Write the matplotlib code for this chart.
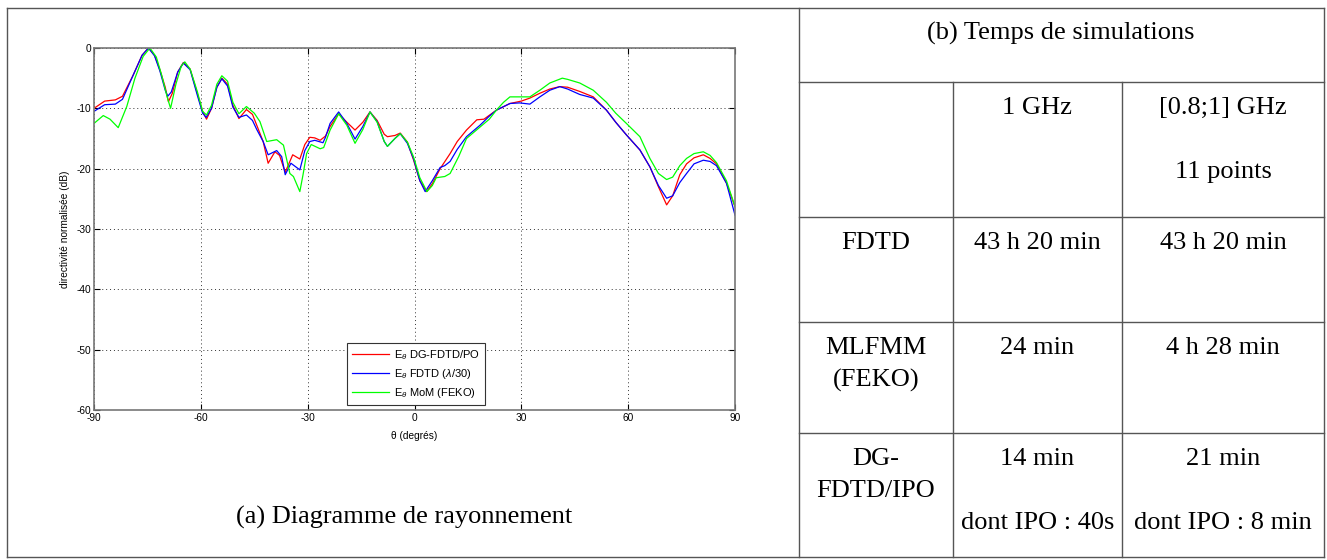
import matplotlib
matplotlib.use('Agg')
import matplotlib.pyplot as plt
from matplotlib.lines import Line2D

plt.rcParams['font.family'] = ['Liberation Sans', 'DejaVu Sans']
plt.rcParams['mathtext.fontset'] = 'custom'
plt.rcParams['mathtext.rm'] = 'Liberation Sans'
plt.rcParams['mathtext.it'] = 'Liberation Sans:italic'
plt.rcParams['axes.unicode_minus'] = False

# --- data (theta in degrees, dB) ---
theta_red = [-90, -87, -84, -82, -79, -76.5, -74.7, -73, -71.5, -70, -69.1, -68, -66.5, -64.9, -63, -61,
             -59.5, -58.4, -57, -55.5, -54.1, -52.5, -51, -49.3, -47.2, -45.5, -44.3, -42.5, -41.1, -39.2,
             -37.9, -36.3, -34.2, -32.2, -30.8, -29.4, -28, -26.5, -25, -23.7, -21.3, -19, -16.7, -14.5,
             -12.5, -10.5, -8.5, -7.6, -5.5, -4.0, -2, -0.3, 1.5, 3.4, 5, 7.2, 10, 12, 14.6, 17.5, 19.5,
             23, 26.8, 30, 32.4, 35.2, 38, 40.8, 43, 46.4, 50.2, 53.9, 56.5, 59.5, 63.3, 66.1, 68.5, 70.8,
             72.5, 74.5, 76.4, 78.5, 81.1, 83, 84.8, 87.6, 90]
red = [-10, -8.8, -8.6, -8.0, -4.5, -1.2, 0, -1.2, -3.6, -6.5, -8.9, -7.5, -4.0, -2.4, -3.5, -7.5,
       -10.5, -11.8, -10, -6.5, -5.0, -6.0, -9.5, -11.7, -10.2, -11.0, -12.8, -15.5, -19.1, -17.2,
       -17.8, -20.6, -17.7, -18.4, -16.0, -14.8, -14.9, -15.3, -14.6, -13.0, -10.9, -12.3, -13.6, -12.3,
       -10.6, -12.0, -14.3, -14.7, -14.5, -14.1, -15.6, -18.5, -22, -23.8, -22.5, -20.0, -17.5, -15.5, -13.6, -11.9, -11.8,
       -10.3, -9.2, -8.8, -8.3, -7.5, -6.8, -6.4, -6.5, -7.2, -8.1, -10.3, -12.3, -14.4, -16.9, -19.7, -23.0, -26.0,
       -24.5, -21.0, -19.2, -18.2, -17.7, -18.3, -19.2, -22.4, -26.3]

theta_blue = [-90, -87, -84, -82, -79, -76.5, -74.7, -73, -71.5, -70, -69.3, -68.3, -66.5, -64.9, -63, -61,
              -59.5, -58.5, -57, -55.5, -54.1, -52.5, -51, -49.3, -47.2, -45.5, -44.3, -42.5, -41.1, -38.7,
              -37.3, -36.3, -34.7, -32.2, -30.8, -29.4, -28, -25.7, -25, -23.7, -21.3, -19, -16.7, -14.5,
              -12.5, -10.5, -8.5, -7.6, -5.5, -4.0, -2, -0.3, 1.5, 3, 5, 7.2, 8.5, 10, 12, 14.6, 18.4, 21,
              23, 26.8, 29.5, 32.4, 35.2, 38, 40.8, 43, 46.4, 50.2, 53.9, 56.5, 59.5, 63.3, 66.1, 68.5, 70.8,
              72.5, 74.5, 76.4, 78.5, 81.1, 83, 84.8, 87.6, 90]
blue = [-10.5, -9.4, -9.3, -8.5, -4.5, -1.2, 0, -1.3, -3.8, -7.0, -8.0, -7.3, -4.0, -2.5, -3.6, -7.8,
        -10.8, -11.5, -10, -6.5, -5.1, -6.3, -9.8, -11.5, -11.1, -12.0, -13.5, -15.5, -17.7, -17.0,
        -18.0, -21.0, -19.1, -20.2, -17.0, -15.5, -15.3, -15.7, -14.8, -12.5, -10.6, -12.5, -15.1, -13.0,
        -10.6, -12.2, -15.5, -16.3, -15.0, -14.2, -15.8, -18.3, -22, -23.8, -22.0, -19.8, -19.5, -18.8, -16.8, -14.7, -12.8, -11.3,
        -10.3, -9.2, -9.1, -9.3, -8.1, -7.0, -6.4, -6.8, -7.7, -8.3, -10.3, -12.3, -14.4, -16.9, -19.7, -22.8, -24.9,
        -24.5, -22.3, -20.8, -19.2, -18.6, -18.8, -19.5, -22.4, -27.7]

theta_green = [-90, -87.4, -85.5, -83.2, -80.8, -78.5, -76.2, -74.3, -72.5, -71, -69.5, -68.5, -67, -65.5,
               -64.5, -63, -61, -59.5, -58.4, -57, -55.5, -54.1, -52.5, -51, -49.3, -47.2, -45, -43.4, -41.5,
               -38.7, -36.8, -35, -34, -32.2, -31.3, -30.3, -29, -26.5, -25.5, -23.7, -21.3, -19, -16.7,
               -14.5, -12.5, -10.5, -8.5, -7.6, -5.5, -4.0, -2, -0.3, 1.5, 3.5, 5, 6.1, 8.5, 10, 12.4, 14.6,
               18.4, 21, 23, 25, 26.8, 29.5, 32.4, 35.2, 38, 41.5, 43, 46.4, 50.2, 53.9, 56.5, 59.5, 63.3,
               66.1, 68.5, 70.8, 72.5, 74.5, 76.4, 78.5, 81.1, 83, 84.8, 87.6, 90]
green = [-12.5, -11.2, -11.8, -13.2, -9.7, -5.0, -1.4, 0, -1.5, -4.5, -8.0, -10.0, -6.0, -3.0,
         -2.3, -3.5, -7.2, -10.5, -11.1, -9.5, -6.0, -4.6, -5.5, -9.0, -10.9, -9.7, -10.8, -12.2, -15.5,
         -15.2, -16.1, -20.8, -21.3, -23.8, -21.0, -17.5, -16.0, -16.7, -16.5, -13.6, -10.9, -12.8, -15.8,
         -13.5, -10.6, -12.3, -15.5, -16.3, -15.0, -14.2, -15.6, -18.0, -21.5, -23.8, -22.8, -21.5, -21.3, -20.8, -18.0, -15.0,
         -13.1, -11.8, -10.3, -9.0, -8.1, -8.1, -8.1, -7.0, -5.8, -5.0, -5.2, -5.8, -7.0, -9.0, -10.8, -12.5, -14.7,
         -18.3, -20.8, -21.8, -21.4, -19.5, -18.3, -17.5, -17.2, -17.8, -19.0, -22.0, -26.3]

series_labels = [r'$\mathrm{E}_\theta$ DG-FDTD/PO', r'$\mathrm{E}_\theta$ FDTD ($\lambda$/30)',
                 r'$\mathrm{E}_\theta$ MoM (FEKO)']
x_ticks = [-90, -60, -30, 0, 30, 60, 90]
y_ticks = [-60, -50, -40, -30, -20, -10, 0]

# --- table (b) ---
table_title = '(b) Temps de simulations'
col_heads = ['', '1 GHz', '[0.8;1] GHz\n\n11 points']
row_heads = ['FDTD', 'MLFMM\n(FEKO)', 'DG-\nFDTD/IPO']
times_1ghz = ['43 h 20 min', '24 min', '14 min\n\ndont IPO : 40s']
times_band = ['43 h 20 min', '4 h 28 min', '21 min\n\ndont IPO : 8 min']

W, H = 1327, 560
fig = plt.figure(figsize=(W / 100, H / 100), dpi=100)


def fx(x):
    return x / W


def fy(y):
    return 1 - y / H


def hline(y, x0, x1):
    fig.add_artist(Line2D([fx(x0), fx(x1)], [fy(y), fy(y)], transform=fig.transFigure, color='#555555', lw=1))


def vline(x, y0, y1):
    fig.add_artist(Line2D([fx(x), fx(x)], [fy(y0), fy(y1)], transform=fig.transFigure, color='#555555', lw=1))


# outer frame and divider
L, R, T, B = 7, 1324, 8, 557
hline(T, L, R)
hline(B, L, R)
vline(L, T, B)
vline(R, T, B)
vline(799, T, B)

# plot (a)
ax = fig.add_axes([fx(94), fy(410), 641 / W, 362 / H])
ax.plot(theta_red, red, color='#ff0000', lw=0.9, label=series_labels[0])
ax.plot(theta_blue, blue, color='#0000ff', lw=0.9, label=series_labels[1])
ax.plot(theta_green, green, color='#00ff00', lw=0.9, label=series_labels[2])
ax.set_xlim(-90, 90)
ax.set_ylim(-60, 0)
ax.set_xticks(x_ticks)
ax.set_yticks(y_ticks)
ax.grid(True, color='#333333', linestyle=(0, (1, 3)), lw=0.7)
ax.tick_params(direction='in', top=True, right=True, labelsize=7.3, length=4, width=0.8, pad=2)
for s in ax.spines.values():
    s.set_color('#777777')
    s.set_linewidth(1.2)
ax.set_xlabel('θ (degrés)', fontsize=7.3, labelpad=6)
ax.set_ylabel('directivité normalisée (dB)', fontsize=7.3, labelpad=5)
leg = ax.legend(loc='lower left', bbox_to_anchor=((347 - 94) / 641, 5 / 362), borderaxespad=0,
                fontsize=8, fancybox=False, framealpha=1, edgecolor='#333333', handlelength=3.3,
                handletextpad=0.5, borderpad=0.45, labelspacing=0.45)
leg.get_frame().set_linewidth(0.8)

serif = ['Liberation Serif', 'DejaVu Serif']
fs = 19
fig.text(fx(404), fy(517), '(a) Diagramme de rayonnement', family=serif, fontsize=fs, ha='center', va='center')

# table (b)
col_x = [799, 953, 1122, 1324]
row_y = [82, 217, 322, 433, 557]
for y in row_y[:-1]:
    hline(y, 799, 1324)
for x in col_x[1:-1]:
    vline(x, 82, 557)
fig.text(fx(1061), fy(33), table_title, family=serif, fontsize=fs, ha='center', va='center')

centers = [(col_x[i] + col_x[i + 1]) / 2 for i in range(3)]
rows = [col_heads] + [[row_heads[i], times_1ghz[i], times_band[i]] for i in range(3)]
for r, row in enumerate(rows):
    top = row_y[r]
    for c, txt in enumerate(row):
        for k, line in enumerate(txt.split('\n')):
            if line:
                fig.text(fx(centers[c]), fy(top + 26 + k * 32), line, family=serif, fontsize=fs,
                         ha='center', va='center')

fig.savefig('out.png', dpi=100)
